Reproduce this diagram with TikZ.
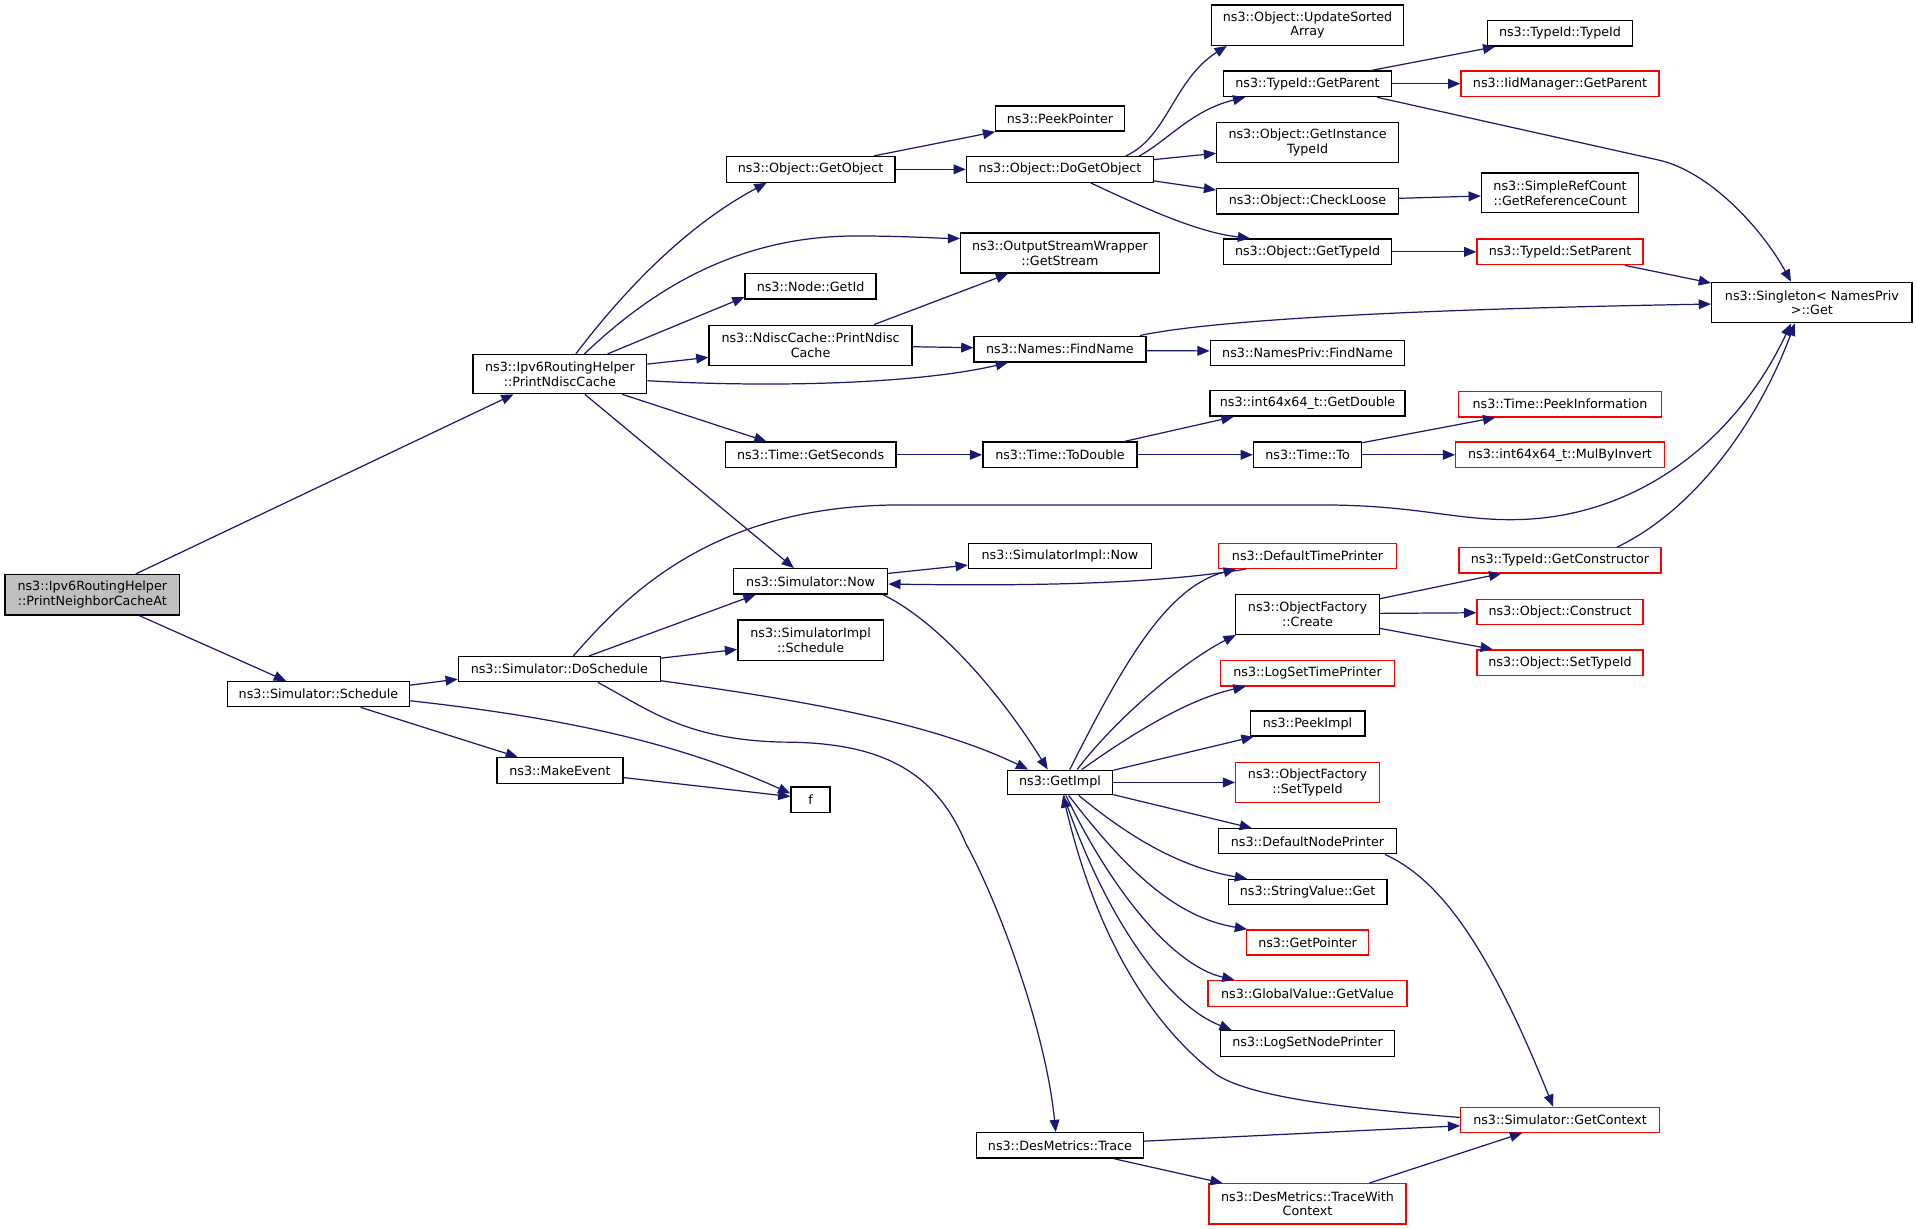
\documentclass[tikz,border=0pt]{standalone}
\usepackage{fontspec}
\setmainfont{DejaVu Sans}
\usetikzlibrary{arrows.meta}
\definecolor{edgec}{HTML}{191970}
\definecolor{redc}{HTML}{FF0000}
\definecolor{grayc}{HTML}{BFBFBF}
\tikzset{
  nb/.style={draw=black, line width=1.1pt, fill=white, inner sep=0pt, align=center, font=\fontsize{10.4}{12}\selectfont},
  nr/.style={nb, draw=redc},
  ed/.style={draw=edgec, line width=1pt, -{Triangle[length=10pt,width=8pt]}},
}
\begin{document}
\begin{tikzpicture}[x=1pt,y=-1pt]
\fill[white] (0,0) rectangle (1568,1005);
\useasboundingbox (0,0) rectangle (1568,1005);
% column 1-4
\node[nb, fill=grayc, minimum width=143pt, minimum height=33pt] (a) at (75.5,486.5) {ns3::Ipv6RoutingHelper\\::PrintNeighborCacheAt};
\node[nb, minimum width=149pt, minimum height=20.5pt] (c) at (260.5,567.8) {ns3::Simulator::Schedule};
\node[nb, minimum width=142pt, minimum height=32pt] (b) at (458,306) {ns3::Ipv6RoutingHelper\\::PrintNdiscCache};
\node[nb, minimum width=165pt, minimum height=20.6pt] (d) at (457.5,547.3) {ns3::Simulator::DoSchedule};
\node[nb, minimum width=103pt, minimum height=21pt] (e) at (458,630.3) {ns3::MakeEvent};
% column 5
\node[nb, minimum width=138pt, minimum height=21pt] (i) at (663,138.5) {ns3::Object::GetObject};
\node[nb, minimum width=107pt, minimum height=20.7pt] (p) at (663,234.3) {ns3::Node::GetId};
\node[nb, minimum width=166pt, minimum height=32.8pt] (q) at (663,282.4) {ns3::NdiscCache::PrintNdisc\\Cache};
\node[nb, minimum width=139.5pt, minimum height=20.7pt] (gs) at (663,372) {ns3::Time::GetSeconds};
\node[nb, minimum width=126pt, minimum height=20.7pt] (sn) at (663,475.5) {ns3::Simulator::Now};
\node[nb, minimum width=119pt, minimum height=33pt] (sis) at (663,523.5) {ns3::SimulatorImpl\\::Schedule};
\node[nb, minimum width=32pt, minimum height=21pt] (f) at (663,654.2) {f};
% column 6
\node[nb, minimum width=106pt, minimum height=20.5pt] (h) at (867,97) {ns3::PeekPointer};
\node[nb, minimum width=153pt, minimum height=21pt] (j) at (867,138.5) {ns3::Object::DoGetObject};
\node[nb, minimum width=162.5pt, minimum height=32.7pt] (o) at (867,207) {ns3::OutputStreamWrapper\\::GetStream};
\node[nb, minimum width=140.5pt, minimum height=21pt] (r) at (867,285.5) {ns3::Names::FindName};
\node[nb, minimum width=126.2pt, minimum height=20.7pt] (td) at (867,372) {ns3::Time::ToDouble};
\node[nb, minimum width=149.7pt, minimum height=20.5pt] (sin) at (867,454.7) {ns3::SimulatorImpl::Now};
\node[nb, minimum width=86.2pt, minimum height=20pt] (gi) at (867,640) {ns3::GetImpl};
\node[nb, minimum width=136.1pt, minimum height=20.8pt] (tr) at (867,936.9) {ns3::DesMetrics::Trace};
% column 7
\node[nb, minimum width=157pt, minimum height=33pt] (g) at (1069.5,20.5) {ns3::Object::UpdateSorted\\Array};
\node[nb, minimum width=137pt, minimum height=21pt] (k) at (1069.5,68.5) {ns3::TypeId::GetParent};
\node[nb, minimum width=148.5pt, minimum height=32.7pt] (l) at (1069.5,116.7) {ns3::Object::GetInstance\\TypeId};
\node[nb, minimum width=148.5pt, minimum height=20.7pt] (m) at (1069.5,164.7) {ns3::Object::CheckLoose};
\node[nb, minimum width=137.6pt, minimum height=21pt] (n) at (1069.5,206) {ns3::Object::GetTypeId};
\node[nb, minimum width=159pt, minimum height=20.6pt] (s) at (1069.5,288.7) {ns3::NamesPriv::FindName};
\node[nb, minimum width=159.4pt, minimum height=20.7pt] (t) at (1069.5,330) {ns3::int64x64\_t::GetDouble};
\node[nb, minimum width=88.4pt, minimum height=20.7pt] (to) at (1069.5,372) {ns3::Time::To};
\node[nr, minimum width=145.3pt, minimum height=20.5pt] (dtp) at (1069.5,454.7) {ns3::DefaultTimePrinter};
\node[nb, minimum width=117.4pt, minimum height=32.7pt] (ofc) at (1069.5,502.5) {ns3::ObjectFactory\\::Create};
\node[nr, minimum width=142pt, minimum height=21pt] (lstp) at (1069.5,550.5) {ns3::LogSetTimePrinter};
\node[nb, minimum width=93.8pt, minimum height=20.4pt] (pi) at (1069.5,591.8) {ns3::PeekImpl};
\node[nr, minimum width=117.4pt, minimum height=32.7pt] (ofs) at (1069.5,640) {ns3::ObjectFactory\\::SetTypeId};
\node[nb, minimum width=146pt, minimum height=20.4pt] (dnp) at (1069.5,688.1) {ns3::DefaultNodePrinter};
\node[nb, minimum width=129.7pt, minimum height=20.7pt] (svg) at (1069.5,729.7) {ns3::StringValue::Get};
\node[nr, minimum width=100.2pt, minimum height=20.7pt] (gp) at (1069.5,770.9) {ns3::GetPointer};
\node[nr, minimum width=162.8pt, minimum height=21pt] (gv) at (1069.5,812.5) {ns3::GlobalValue::GetValue};
\node[nb, minimum width=142.7pt, minimum height=21pt] (lsnp) at (1069.5,853.5) {ns3::LogSetNodePrinter};
\node[nr, minimum width=161pt, minimum height=32.9pt] (twc) at (1069.5,984.7) {ns3::DesMetrics::TraceWith\\Context};
% column 8
\node[nb, minimum width=118.8pt, minimum height=20.7pt] (u) at (1276,27.3) {ns3::TypeId::TypeId};
\node[nr, minimum width=162pt, minimum height=21pt] (v) at (1276,68.5) {ns3::IidManager::GetParent};
\node[nb, minimum width=128.5pt, minimum height=32.5pt] (w) at (1276,157.8) {ns3::SimpleRefCount\\::GetReferenceCount};
\node[nr, minimum width=135.7pt, minimum height=21pt] (x) at (1276,206) {ns3::TypeId::SetParent};
\node[nr, minimum width=166pt, minimum height=21pt] (z) at (1276,330.5) {ns3::Time::PeekInformation};
\node[nr, minimum width=170.5pt, minimum height=20.7pt] (mi) at (1276,372) {ns3::int64x64\_t::MulByInvert};
\node[nr, minimum width=165pt, minimum height=20.5pt] (gc) at (1276,458.3) {ns3::TypeId::GetConstructor};
\node[nr, minimum width=135.7pt, minimum height=20.7pt] (oc) at (1276,500.7) {ns3::Object::Construct};
\node[nr, minimum width=136pt, minimum height=20.7pt] (ost) at (1276,542) {ns3::Object::SetTypeId};
\node[nr, minimum width=162.3pt, minimum height=20.4pt] (gctx) at (1276,916) {ns3::Simulator::GetContext};
% column 9
\node[nb, minimum width=164pt, minimum height=33pt] (y) at (1482,247.5) {ns3::Singleton< NamesPriv\\>::Get};

% edges
\draw[ed] ([xshift=35.5pt]a.north) -- ([xshift=-38pt]b.south);
\draw[ed] ([xshift=38.5pt]a.south) -- ([xshift=-26.5pt]c.north);
\draw[ed] ([yshift=7.4pt]c.east) -- ([yshift=-8.2pt]d.west);
\draw[ed] ([xshift=34.5pt]c.south) -- ([xshift=-34.4pt]e.north);
\draw[ed] ([yshift=-5.4pt]c.east) .. controls (470,588) and (560,610) .. ([yshift=5.2pt]f.west);
\draw[ed] ([yshift=-5.7pt]e.east) -- ([yshift=2.7pt]f.west);
\draw[ed] ([yshift=9pt]d.east) -- ([yshift=-7.7pt]sis.west);
\draw[ed] ([xshift=24.5pt]d.north) -- ([xshift=-45pt]sn.south);
\draw[ed] ([xshift=11.5pt]d.north) .. controls (510,490) and (580,413) .. (737,413) -- (1080,413)
   .. controls (1160,413) and (1190,426) .. (1241,425) .. controls (1340,423) and (1420,360) .. ([xshift=-17pt]y.south);
\draw[ed] ([yshift=-9.5pt]d.east) .. controls (650,572) and (760,590) .. ([xshift=-26pt]gi.north);
\draw[ed] ([xshift=31.5pt]d.south) .. controls (530,580) and (560,605) .. (640,607)
   .. controls (720,607) and (765,630) .. (790,690) .. controls (815,735) and (855,840) .. ([xshift=-3.5pt]tr.north);
\draw[ed] ([xshift=13pt]b.north) .. controls (520,225) and (570,180) .. ([xshift=-36pt]i.south);
\draw[ed] ([xshift=20pt]b.north) .. controls (530,240) and (600,193) .. (700,193) .. controls (740,193) and (770,195) .. ([yshift=12pt]o.west);
\draw[ed] ([xshift=39pt]b.north) -- ([yshift=-8.7pt]p.west);
\draw[ed] ([yshift=8.2pt]b.east) -- ([yshift=-9.9pt]q.west);
\draw[ed] ([yshift=-5.4pt]b.east) .. controls (650,318) and (760,312) .. ([xshift=-42.5pt]r.south);
\draw[ed] ([xshift=51pt]b.south) -- ([xshift=-36pt]gs.north);
\draw[ed] ([xshift=20.4pt]b.south) -- ([xshift=-13.7pt]sn.north);
\draw[ed] ([xshift=52pt]i.north) -- ([xshift=-53pt]h.south);
\draw[ed] (i.east) -- (j.west);
\draw[ed] ([xshift=54pt]j.north) .. controls (955,112) and (960,65) .. ([xshift=-66pt]g.south);
\draw[ed] ([xshift=65pt]j.north) .. controls (955,115) and (975,90) .. ([xshift=-51pt]k.south);
\draw[ed] ([yshift=8pt]j.east) -- ([yshift=-8.7pt]l.west);
\draw[ed] ([yshift=-9.5pt]j.east) -- ([yshift=9.3pt]m.west);
\draw[ed] ([xshift=25pt]j.south) .. controls (940,172) and (980,190) .. ([xshift=-47pt]n.north);
\draw[ed] ([xshift=52.8pt]k.north) -- ([xshift=-53pt]u.south);
\draw[ed] (k.east) -- (v.west);
\draw[ed] ([xshift=56.8pt]k.south) -- (1357,131) .. controls (1397,140) and (1440,185) .. ([xshift=-17pt]y.north);
\draw[ed] (n.east) -- (x.west);
\draw[ed] ([yshift=2.5pt]m.east) -- ([yshift=-2.5pt]w.west);
\draw[ed] ([xshift=53pt]x.south) -- ([yshift=16pt]y.west);
\draw[ed] ([xshift=65.3pt]r.north) .. controls (990,262) and (1150,253) .. ([yshift=-1.2pt]y.west);
\draw[ed] ([yshift=-1.4pt]r.east) -- ([yshift=1.7pt]s.west);
\draw[ed] ([xshift=52pt]q.north) -- ([xshift=-42.5pt]o.south);
\draw[ed] ([yshift=-1.2pt]q.east) -- ([yshift=1.1pt]r.west);
\draw[ed] (gs.east) -- (td.west);
\draw[ed] ([xshift=52.5pt]td.north) -- ([xshift=-60.5pt]t.south);
\draw[ed] (td.east) -- (to.west);
\draw[ed] ([yshift=9.9pt]to.east) -- ([xshift=-53pt]z.south);
\draw[ed] (to.east) -- (mi.west);
\draw[ed] ([yshift=6.5pt]sn.east) -- ([yshift=-7.5pt]sin.west);
\draw[ed] ([xshift=-50.7pt]dtp.south) .. controls (960,475) and (880,480) .. ([yshift=-2.2pt]sn.east);
\draw[ed] ([xshift=59.3pt]sn.south) .. controls (770,510) and (820,570) .. ([xshift=-10pt]gi.north);
\draw[ed] ([xshift=8pt]gi.north) .. controls (920,540) and (955,480) .. ([xshift=-58.7pt]dtp.south);
\draw[ed] ([xshift=14pt]gi.north) .. controls (915,585) and (970,540) .. ([xshift=-58.7pt]ofc.south);
\draw[ed] ([xshift=17.8pt]gi.north) .. controls (940,590) and (980,570) .. ([xshift=-50.7pt]lstp.south);
\draw[ed] ([yshift=10pt]gi.east) -- ([xshift=-44.1pt]pi.south);
\draw[ed] (gi.east) -- (ofs.west);
\draw[ed] ([yshift=-10pt]gi.east) -- ([xshift=-45.5pt]dnp.north);
\draw[ed] ([xshift=15.3pt]gi.south) .. controls (930,690) and (970,710) .. ([xshift=-49.5pt]svg.north);
\draw[ed] ([xshift=7pt]gi.south) .. controls (920,710) and (960,750) .. ([xshift=-49.5pt]gp.north);
\draw[ed] ([xshift=4.8pt]gi.south) .. controls (910,730) and (960,790) .. ([xshift=-59.9pt]gv.north);
\draw[ed] ([xshift=3pt]gi.south) .. controls (900,740) and (950,820) .. ([xshift=-62.1pt]lsnp.north);
\draw[ed] ([yshift=2pt]gctx.west) .. controls (1080,905) and (1020,895) .. (995,879) .. controls (950,845) and (900,780) .. ([xshift=2.5pt]gi.south);
\draw[ed] ([xshift=63.2pt]dnp.south) .. controls (1180,720) and (1220,780) .. ([xshift=-5.6pt]gctx.north);
\draw[ed] ([yshift=3.5pt]tr.east) -- ([yshift=-4.8pt]gctx.west);
\draw[ed] ([xshift=44.5pt]tr.south) -- ([xshift=-69.5pt]twc.north);
\draw[ed] ([xshift=50.5pt]twc.north) -- ([xshift=-31pt]gctx.south);
\draw[ed] ([yshift=12.8pt]ofc.east) -- ([xshift=-48pt]gc.south);
\draw[ed] ([yshift=0.8pt]ofc.east) -- ([yshift=-0.5pt]oc.west);
\draw[ed] ([yshift=-11.5pt]ofc.east) -- ([xshift=-55pt]ost.north);
\draw[ed] ([xshift=46.7pt]gc.north) .. controls (1390,415) and (1440,340) .. ([xshift=-14pt]y.south);
\end{tikzpicture}
\end{document}
